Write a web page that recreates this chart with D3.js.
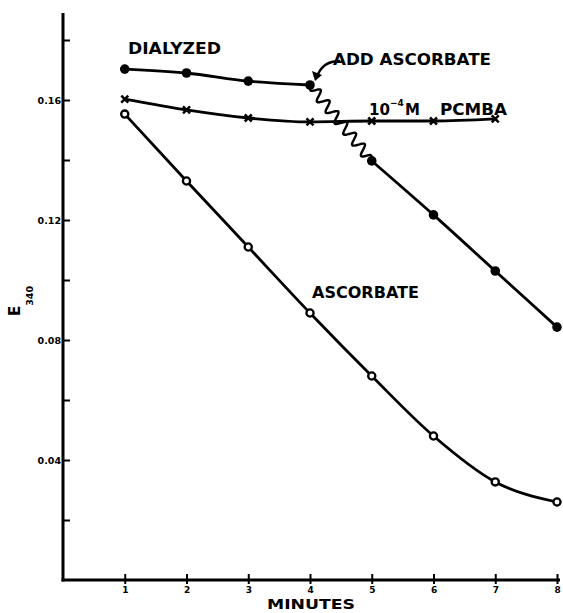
<!DOCTYPE html>
<html><head><meta charset="utf-8">
<script src="https://cdn.jsdelivr.net/npm/d3@7"></script>
<style>
html,body{margin:0;padding:0;background:#fff;}
svg{display:block;}
text{font-family:"DejaVu Sans",sans-serif;font-weight:bold;fill:#000;}
</style></head>
<body><svg id="chart" width="563" height="613"></svg>
<script>
// ---- data ----
const minutes = [1, 2, 3, 4, 5, 6, 7, 8];
const dialyzedMinutes = [1, 2, 3, 4];
const dialyzedValues = [0.1703, 0.1690, 0.1663, 0.1650];
const addAscorbateMinutes = [5, 6, 7, 8];
const addAscorbateValues = [0.1397, 0.1217, 0.1030, 0.0843];
const pcmbaMinutes = [1, 2, 3, 4, 5, 6, 7];
const pcmbaValues = [0.1603, 0.1567, 0.1540, 0.1527, 0.1530, 0.1530, 0.1537];
const ascorbateMinutes = [1, 2, 3, 4, 5, 6, 7, 8];
const ascorbateValues = [0.1553, 0.1330, 0.1110, 0.0890, 0.0680, 0.0480, 0.0327, 0.0260];
const yTicks = [0.02, 0.04, 0.06, 0.08, 0.10, 0.12, 0.14, 0.16, 0.18];
const yTickLabels = {"0.04": "0.04", "0.08": "0.08", "0.12": "0.12", "0.16": "0.16"};
const xTickLabels = ["1", "2", "3", "4", "5", "6", "7", "8"];

const svg = d3.select("#chart");
const x = d3.scaleLinear().domain([0, 8]).range([63, 557]);
const y = d3.scaleLinear().domain([0, 0.189]).range([580, 13]);

// axes
const g = svg.append("g");
g.append("line").attr("x1", x(0)).attr("x2", x(0)).attr("y1", y(0.189)).attr("y2", y(0) + 1.5)
  .attr("stroke", "#000").attr("stroke-width", 3);
g.append("line").attr("x1", x(0) - 1.5).attr("x2", x(8) + 3).attr("y1", y(0)).attr("y2", y(0))
  .attr("stroke", "#000").attr("stroke-width", 3);

// y ticks (inward)
const yAxis = d3.axisRight(y).tickValues(yTicks).tickSize(7).tickFormat(d => "");
const ya = svg.append("g").attr("transform", `translate(${x(0)},0)`).call(yAxis);
ya.select(".domain").remove();
ya.selectAll(".tick line").attr("stroke", "#000").attr("stroke-width", 2);
svg.selectAll(null).data(yTicks.filter(v => yTickLabels[v.toFixed(2)]))
  .enter().append("text")
  .attr("x", x(0) - 2).attr("y", d => y(d) + 3.5)
  .attr("text-anchor", "end").style("font-size", "9.5px")
  .text(d => yTickLabels[d.toFixed(2)]);

// x ticks (crossing)
const xAxis = d3.axisBottom(x).tickValues(minutes).tickSize(4).tickFormat((d, i) => xTickLabels[i]);
const xa = svg.append("g").attr("transform", `translate(0,${y(0)})`).call(xAxis);
xa.select(".domain").remove();
xa.selectAll(".tick line").attr("y1", -6).attr("y2", 4).attr("stroke", "#000").attr("stroke-width", 2);
xa.selectAll(".tick text").attr("y", 7).attr("dy", "0.71em")
  .style("font-family", "DejaVu Sans").style("font-weight", "bold").style("font-size", "9px").attr("fill", "#000");

// axis titles
svg.append("text").attr("x", 311).attr("y", 609).attr("text-anchor", "middle")
  .style("font-size", "14px").attr("textLength", 88).attr("lengthAdjust", "spacingAndGlyphs").text("MINUTES");
const et = svg.append("text").attr("transform", "translate(20,316) rotate(-90)");
et.append("tspan").style("font-size", "15px").text("E");
et.append("tspan").attr("dy", 13).style("font-size", "9.5px").text("340");

// lines
const line = d3.line().x(d => x(d[0])).y(d => y(d[1])).curve(d3.curveMonotoneX);
const zip = (a, b) => a.map((v, i) => [v, b[i]]);
const dialA = zip(dialyzedMinutes, dialyzedValues);
const dialB = zip(addAscorbateMinutes, addAscorbateValues);
const pcmba = zip(pcmbaMinutes, pcmbaValues);
const asc = zip(ascorbateMinutes, ascorbateValues);
[dialA, dialB, pcmba, asc].forEach(s => {
  svg.append("path").attr("d", line(s)).attr("fill", "none")
    .attr("stroke", "#000").attr("stroke-width", 2.8).attr("stroke-linejoin", "round");
});

// wavy connector between minute 4 and minute 5 of the dialyzed series
(function () {
  const p0 = [x(dialA[3][0]), y(dialA[3][1])];
  const p1 = [x(dialB[0][0]), y(dialB[0][1])];
  const dx = p1[0] - p0[0], dy = p1[1] - p0[1];
  const L = Math.hypot(dx, dy);
  const ux = dx / L, uy = dy / L, nx = -uy, ny = ux;
  const periods = 7, amp = 5.2, n = 300;
  const pts = d3.range(n + 1).map(i => {
    const t = i / n;
    const env = Math.min(1, t * 14, (1 - t) * 14);
    const o = amp * env * Math.sin(t * periods * 2 * Math.PI);
    return [p0[0] + ux * L * t + nx * o, p0[1] + uy * L * t + ny * o];
  });
  svg.append("path").attr("d", d3.line().curve(d3.curveBasis)(pts)).attr("fill", "none")
    .attr("stroke", "#000").attr("stroke-width", 2.4);
})();

// markers
svg.selectAll(null).data(dialA.concat(dialB)).enter().append("circle")
  .attr("cx", d => x(d[0])).attr("cy", d => y(d[1])).attr("r", 4.8).attr("fill", "#000");
svg.selectAll(null).data(asc).enter().append("circle")
  .attr("cx", d => x(d[0])).attr("cy", d => y(d[1])).attr("r", 3.6)
  .attr("fill", "#fff").attr("stroke", "#000").attr("stroke-width", 2.3);
svg.selectAll(null).data(pcmba).enter().append("path")
  .attr("transform", d => `translate(${x(d[0])},${y(d[1])})`)
  .attr("d", "M-3.5,-3.5L3.5,3.5M-3.5,3.5L3.5,-3.5")
  .attr("stroke", "#000").attr("stroke-width", 2.5);

// annotations
svg.append("text").attr("x", 128).attr("y", 54).style("font-size", "15px")
  .attr("textLength", 93).attr("lengthAdjust", "spacingAndGlyphs").text("DIALYZED");
svg.append("text").attr("x", 333).attr("y", 65).style("font-size", "16px")
  .attr("textLength", 158).attr("lengthAdjust", "spacingAndGlyphs").text("ADD ASCORBATE");
svg.append("text").attr("x", 312).attr("y", 298).style("font-size", "15.5px")
  .attr("textLength", 107).attr("lengthAdjust", "spacingAndGlyphs").text("ASCORBATE");
const pt = svg.append("text").attr("x", 369).attr("y", 115).style("font-size", "15px");
pt.append("tspan").attr("textLength", 21).attr("lengthAdjust", "spacingAndGlyphs").text("10");
pt.append("tspan").attr("dy", -9).style("font-size", "9px").text("−4");
pt.append("tspan").attr("x", 405).attr("dy", 9).text("M");
pt.append("tspan").attr("x", 440).attr("textLength", 67).attr("lengthAdjust", "spacingAndGlyphs").text("PCMBA");

// arrow for ADD ASCORBATE
const p4 = [x(dialA[3][0]), y(dialA[3][1])];
svg.append("path")
  .attr("d", `M${p4[0] + 30},${p4[1] - 24} Q${p4[0] + 12},${p4[1] - 24} ${p4[0] + 7},${p4[1] - 8}`)
  .attr("fill", "none").attr("stroke", "#000").attr("stroke-width", 2.4);
svg.append("path")
  .attr("d", `M${p4[0] + 5},${p4[1] - 4} L${p4[0] + 2},${p4[1] - 14} L${p4[0] + 12},${p4[1] - 10} Z`)
  .attr("fill", "#000");
</script></body></html>
